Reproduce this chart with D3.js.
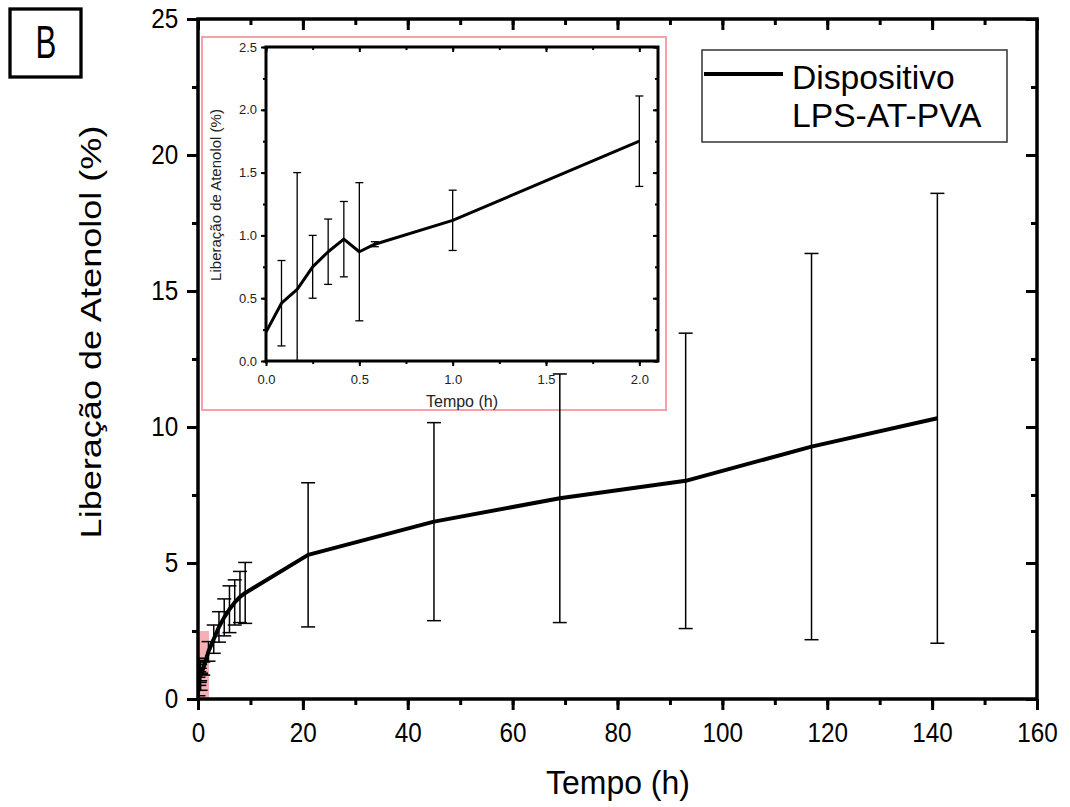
<!DOCTYPE html>
<html>
<head>
<meta charset="utf-8">
<script src="https://cdn.jsdelivr.net/npm/d3@7"></script>
<style>
  body { margin: 0; background: #fff; }
  svg { display: block; }
  svg text { font-family: "Liberation Sans", Arial, sans-serif; }
</style>
</head>
<body>
<svg id="plot" width="1070" height="807"></svg>
<script>
// time points (h), mean release (%), standard deviation (%)
const tempo = [0, 0.083, 0.167, 0.25, 0.333, 0.417, 0.5, 0.583, 1, 2, 3, 4, 5, 6, 7, 8, 9, 21, 45, 69, 93, 117, 141];
const liberacao = [0.23, 0.46, 0.57, 0.75, 0.87, 0.97, 0.87, 0.93, 1.12, 1.75, 2.2, 2.65, 3.0, 3.3, 3.55, 3.75, 3.9, 5.3, 6.52, 7.38, 8.02, 9.28, 10.32];
const desvio = [0, 0.34, 0.93, 0.25, 0.26, 0.3, 0.55, 0.02, 0.24, 0.36, 0.52, 0.56, 0.68, 0.86, 0.83, 0.94, 1.12, 2.65, 3.64, 4.57, 5.43, 7.1, 8.27];

const xTicks = [0, 20, 40, 60, 80, 100, 120, 140, 160];
const yTicks = [0, 5, 10, 15, 20, 25];
const insetXTicks = [0, 0.5, 1.0, 1.5, 2.0];
const insetYTicks = [0, 0.5, 1.0, 1.5, 2.0, 2.5];
const legendLines = ['Dispositivo', 'LPS-AT-PVA'];

const data = tempo.map((t, i) => ({t: t, v: liberacao[i], e: desvio[i]}));

const svg = d3.select('#plot');
const pink = '#f2a2a8';

// main scales
const x = d3.scaleLinear().domain([0, 160]).range([198, 1037]);
const y = d3.scaleLinear().domain([0, 25]).range([699, 19]);

// inset scales
const xi = d3.scaleLinear().domain([0, 2.1]).range([266, 658]);
const yi = d3.scaleLinear().domain([0, 2.5]).range([361, 47]);

svg.append('defs').append('clipPath').attr('id', 'clipMain')
    .append('rect').attr('x', x(0)).attr('y', y(25)).attr('width', x(160) - x(0)).attr('height', y(0) - y(25));
svg.select('defs').append('clipPath').attr('id', 'clipInset')
    .append('rect').attr('x', xi(0)).attr('y', yi(2.5)).attr('width', xi(2.1) - xi(0)).attr('height', yi(0) - yi(2.5));

// zoom region marker in the main plot
svg.append('rect')
    .attr('x', x(0)).attr('y', y(2.5))
    .attr('width', x(2.1) - x(0)).attr('height', y(0) - y(2.5))
    .attr('fill', pink).attr('opacity', 0.85);

// ---------- inset ----------
const inset = svg.append('g');
inset.append('rect')
    .attr('x', 202).attr('y', 37).attr('width', 464).attr('height', 373)
    .attr('fill', '#fff').attr('stroke', pink).attr('stroke-width', 2);

function styleAxis(g, tw) {
    g.attr('font-family', null).attr('font-size', null);
    g.select('.domain').remove();
    g.selectAll('line').attr('stroke', '#000').attr('stroke-width', tw);
}

const iMinorX = d3.range(0, 2.11, 0.25);
const iMinorY = d3.range(0, 2.51, 0.25);

inset.append('g').attr('transform', `translate(0,${yi(0)})`)
    .call(d3.axisBottom(xi).tickValues(iMinorX).tickSize(3).tickFormat(''))
    .call(g => styleAxis(g, 2));
inset.append('g').attr('transform', `translate(0,${yi(0)})`)
    .call(d3.axisBottom(xi).tickValues(insetXTicks).tickSize(5).tickPadding(9).tickFormat(d3.format('.1f')))
    .call(g => styleAxis(g, 2))
    .call(g => g.selectAll('text').attr('font-size', 13).attr('fill', '#222'));
inset.append('g').attr('transform', `translate(${xi(0)},0)`)
    .call(d3.axisLeft(yi).tickValues(iMinorY).tickSize(3).tickFormat(''))
    .call(g => styleAxis(g, 2));
inset.append('g').attr('transform', `translate(${xi(0)},0)`)
    .call(d3.axisLeft(yi).tickValues(insetYTicks).tickSize(5).tickPadding(4).tickFormat(d3.format('.1f')))
    .call(g => styleAxis(g, 2))
    .call(g => g.selectAll('text').attr('font-size', 13).attr('fill', '#222'));
// mirrored inset ticks (inward)
inset.append('g').attr('transform', `translate(0,${yi(2.5)})`)
    .call(d3.axisTop(xi).tickValues(iMinorX).tickSize(-3).tickFormat(''))
    .call(g => styleAxis(g, 2));
inset.append('g').attr('transform', `translate(0,${yi(2.5)})`)
    .call(d3.axisTop(xi).tickValues(insetXTicks).tickSize(-5).tickFormat(''))
    .call(g => styleAxis(g, 2));
inset.append('g').attr('transform', `translate(${xi(2.1)},0)`)
    .call(d3.axisRight(yi).tickValues(iMinorY).tickSize(-3).tickFormat(''))
    .call(g => styleAxis(g, 2));
inset.append('g').attr('transform', `translate(${xi(2.1)},0)`)
    .call(d3.axisRight(yi).tickValues(insetYTicks).tickSize(-5).tickFormat(''))
    .call(g => styleAxis(g, 2));

const insetData = data.filter(d => d.t <= 2);
const iPlot = inset.append('g').attr('clip-path', 'url(#clipInset)');
insetData.filter(d => d.e > 0).forEach(d => {
    const top = yi(d.v + d.e), bot = yi(d.v - d.e), cx = xi(d.t);
    iPlot.append('line').attr('x1', cx).attr('x2', cx).attr('y1', top).attr('y2', bot)
        .attr('stroke', '#000').attr('stroke-width', 1.3);
    [top, bot].forEach(yy => iPlot.append('line')
        .attr('x1', cx - 4).attr('x2', cx + 4).attr('y1', yy).attr('y2', yy)
        .attr('stroke', '#000').attr('stroke-width', 1.3));
});
iPlot.append('path').datum(insetData)
    .attr('d', d3.line().x(d => xi(d.t)).y(d => yi(d.v)))
    .attr('fill', 'none').attr('stroke', '#000').attr('stroke-width', 3).attr('stroke-linejoin', 'round');

inset.append('rect')
    .attr('x', xi(0)).attr('y', yi(2.5)).attr('width', xi(2.1) - xi(0)).attr('height', yi(0) - yi(2.5))
    .attr('fill', 'none').attr('stroke', '#000').attr('stroke-width', 3);

inset.append('text').attr('transform', 'translate(221,195) rotate(-90)')
    .attr('text-anchor', 'middle').attr('font-size', 15).attr('fill', '#222')
    .text('Liberação de Atenolol (%)');
inset.append('text').attr('x', 462).attr('y', 407)
    .attr('text-anchor', 'middle').attr('font-size', 16).attr('fill', '#222')
    .text('Tempo (h)');

// ---------- main axes ----------
const main = svg.append('g');
const minorX = d3.range(0, 161, 10);
const minorY = d3.range(0, 25.1, 2.5);

main.append('g').attr('transform', `translate(0,${y(0)})`)
    .call(d3.axisBottom(x).tickValues(minorX).tickSize(6).tickFormat(''))
    .call(g => styleAxis(g, 3));
main.append('g').attr('transform', `translate(0,${y(0)})`)
    .call(d3.axisBottom(x).tickValues(xTicks).tickSize(11).tickPadding(13))
    .call(g => styleAxis(g, 3))
    .call(g => g.selectAll('text').attr('font-size', 27).attr('fill', '#000')
        .attr('transform', 'scale(0.9,1)'));
main.append('g').attr('transform', `translate(${x(0)},0)`)
    .call(d3.axisLeft(y).tickValues(minorY).tickSize(6).tickFormat(''))
    .call(g => styleAxis(g, 3));
main.append('g').attr('transform', `translate(${x(0)},0)`)
    .call(d3.axisLeft(y).tickValues(yTicks).tickSize(11).tickPadding(11))
    .call(g => styleAxis(g, 3))
    .call(g => g.selectAll('text').attr('font-size', 27).attr('fill', '#000')
        .attr('transform', 'scale(0.9,1)'));
main.append('g').attr('transform', `translate(0,${y(25)})`)
    .call(d3.axisTop(x).tickValues(minorX).tickSize(-6).tickFormat(''))
    .call(g => styleAxis(g, 3));
main.append('g').attr('transform', `translate(0,${y(25)})`)
    .call(d3.axisTop(x).tickValues(xTicks).tickSize(-11).tickFormat(''))
    .call(g => styleAxis(g, 3));
main.append('g').attr('transform', `translate(${x(160)},0)`)
    .call(d3.axisRight(y).tickValues(minorY).tickSize(-6).tickFormat(''))
    .call(g => styleAxis(g, 3));
main.append('g').attr('transform', `translate(${x(160)},0)`)
    .call(d3.axisRight(y).tickValues(yTicks).tickSize(-11).tickFormat(''))
    .call(g => styleAxis(g, 3));

// ---------- main data ----------
const mPlot = main.append('g').attr('clip-path', 'url(#clipMain)');
data.filter(d => d.e > 0).forEach(d => {
    const top = y(d.v + d.e), bot = y(d.v - d.e), cx = x(d.t);
    mPlot.append('line').attr('x1', cx).attr('x2', cx).attr('y1', top).attr('y2', bot)
        .attr('stroke', '#000').attr('stroke-width', 1.5);
    [top, bot].forEach(yy => mPlot.append('line')
        .attr('x1', cx - 7).attr('x2', cx + 7).attr('y1', yy).attr('y2', yy)
        .attr('stroke', '#000').attr('stroke-width', 1.5));
});
mPlot.append('path').datum(data)
    .attr('d', d3.line().x(d => x(d.t)).y(d => y(d.v)))
    .attr('fill', 'none').attr('stroke', '#000').attr('stroke-width', 4).attr('stroke-linejoin', 'round');

main.append('rect')
    .attr('x', x(0)).attr('y', y(25)).attr('width', x(160) - x(0)).attr('height', y(0) - y(25))
    .attr('fill', 'none').attr('stroke', '#000').attr('stroke-width', 3.5);

// axis titles
main.append('text').attr('transform', 'translate(618,794) scale(0.94,1)')
    .attr('text-anchor', 'middle').attr('font-size', 34).text('Tempo (h)');
main.append('text').attr('transform', 'translate(101,332) rotate(-90) scale(1.03,0.85)')
    .attr('text-anchor', 'middle').attr('font-size', 35).text('Liberação de Atenolol (%)');

// legend
const legend = svg.append('g');
legend.append('rect').attr('x', 702).attr('y', 50).attr('width', 305).attr('height', 92)
    .attr('fill', '#fff').attr('stroke', '#333').attr('stroke-width', 1.5);
legend.append('line').attr('x1', 704).attr('x2', 783).attr('y1', 74).attr('y2', 74)
    .attr('stroke', '#000').attr('stroke-width', 4);
legendLines.forEach((s, i) => legend.append('text')
    .attr('transform', `translate(792,${89 + i * 38}) scale(1.02,1)`)
    .attr('font-size', 33).text(s));

// panel label
svg.append('rect').attr('x', 10).attr('y', 9).attr('width', 71).attr('height', 68)
    .attr('fill', 'none').attr('stroke', '#000').attr('stroke-width', 3.3);
svg.append('text').attr('transform', 'translate(46,58) scale(0.68,1)')
    .attr('text-anchor', 'middle').attr('font-size', 46).text('B');
</script>
</body>
</html>
